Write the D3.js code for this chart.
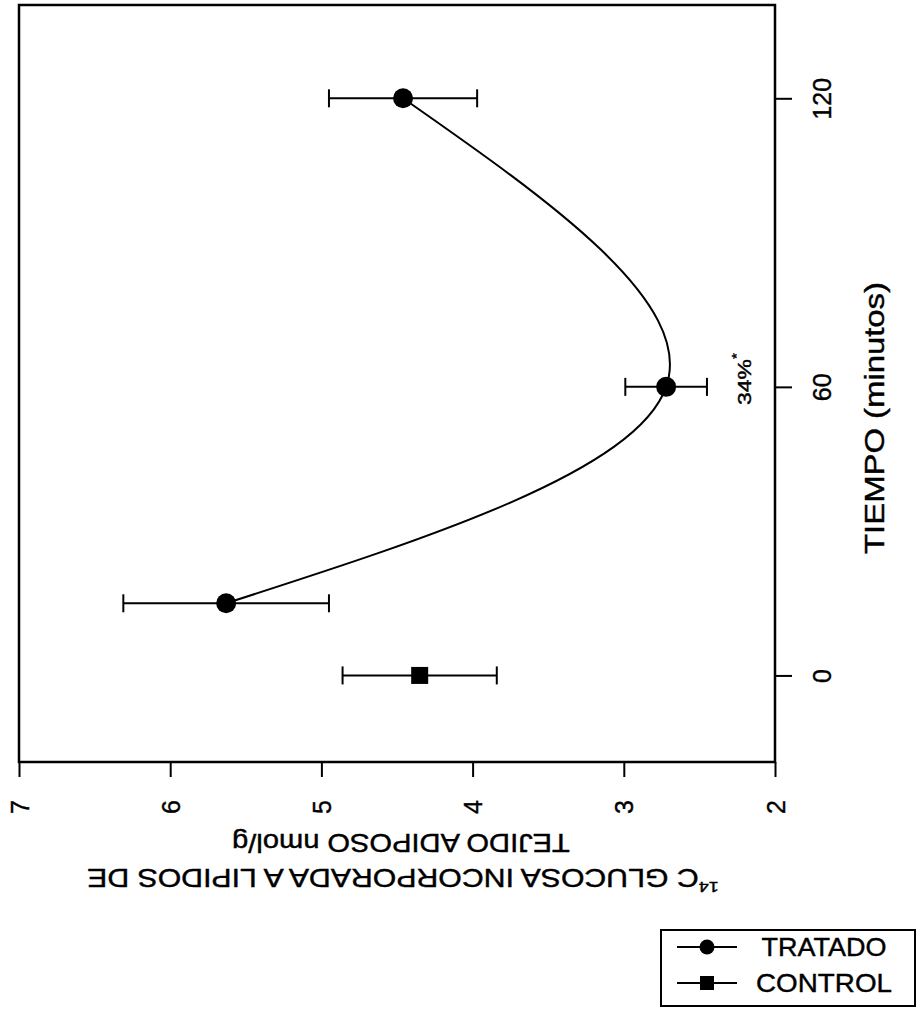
<!DOCTYPE html>
<html lang="es">
<head>
<meta charset="UTF-8">
<title>Glucosa</title>
<script src="https://cdn.jsdelivr.net/npm/d3@7"></script>
<style>
    body { margin: 0; background: #fff; }
    svg text { font-family: "Liberation Sans", Arial, sans-serif; fill: #000; stroke: #000; stroke-width: 0.4px; }
</style>
</head>
<body>
<script>
// datos
var tiempos = [15, 60, 120];            // minutos, grupo tratado
var tratado = [5.63, 2.72, 4.46];       // nmol/g
var tratadoErr = [0.68, 0.27, 0.49];
var controlT = [0];
var control = [4.35];
var controlErr = [0.51];
var ticksValor = [7, 6, 5, 4, 3, 2];
var ticksTiempo = [0, 60, 120];

var W = 920, H = 1017;
var svg = d3.select("body").append("svg")
    .attr("width", W).attr("height", H);

// la figura esta girada: el tiempo va en vertical y el valor en horizontal
var mLeft = 19, mRight = 775, mTop = 5, mBottom = 762;
var v = d3.scaleLinear().domain([7, 2]).range([mLeft, mRight]);
var t = d3.scaleLinear().domain([-18, 139.4]).range([mBottom, mTop]);

// texto girado y ajustado a una longitud
function texto(g, cx, cy, ang, size, len) {
    var tx = g.append("text")
        .attr("text-anchor", "middle")
        .attr("dominant-baseline", "central")
        .attr("font-size", size);
    return {
        el: tx,
        fit: function () {
            var k = len ? len / tx.node().getComputedTextLength() : 1;
            tx.attr("transform", "translate(" + cx + "," + cy + ") rotate(" + ang + ") scale(" + k + ",1)");
        }
    };
}

// marco
svg.append("rect")
    .attr("x", mLeft).attr("y", mTop)
    .attr("width", mRight - mLeft).attr("height", mBottom - mTop)
    .attr("fill", "none").attr("stroke", "#000").attr("stroke-width", 2.5);

// eje de valores (abajo)
var ax = svg.append("g").attr("transform", "translate(0," + mBottom + ")")
    .call(d3.axisBottom(v).tickValues(ticksValor).tickSize(15).tickFormat(d3.format("d")));
ax.select(".domain").remove();
ax.selectAll("line").attr("stroke-width", 2);
ax.selectAll("text")
    .attr("y", 0).attr("dy", null)
    .attr("font-size", 25)
    .attr("text-anchor", "middle")
    .attr("dominant-baseline", "central")
    .attr("transform", "translate(0,45) rotate(-90)");

// eje de tiempo (derecha)
var at = svg.append("g").attr("transform", "translate(" + mRight + ",0)")
    .call(d3.axisRight(t).tickValues(ticksTiempo).tickSize(17));
at.select(".domain").remove();
at.selectAll("line").attr("stroke-width", 2);
at.selectAll("text")
    .attr("x", 0).attr("dy", null)
    .attr("font-size", 25)
    .attr("text-anchor", "middle")
    .attr("dominant-baseline", "central")
    .attr("transform", "translate(47,0) rotate(-90)");

// titulos de ejes
var tt = texto(svg, 875, 418, -90, 27, 272);
tt.el.text("TIEMPO (minutos)");
tt.fit();

var l1 = texto(svg, 403, 878, 180, 25, 632);
l1.el.append("tspan").attr("font-size", 15).attr("baseline-shift", "super").text("14");
l1.el.append("tspan").text("C GLUCOSA INCORPORADA A LIPIDOS DE");
l1.fit();
var l2 = texto(svg, 401, 843, 180, 25, 338);
l2.el.text("TEJIDO ADIPOSO nmol/g");
l2.fit();

// curva suavizada del grupo tratado
var puntos = tiempos.map(function (d, i) {
    return { t: d, y: tratado[i], e: tratadoErr[i] };
});
var ctrl = controlT.map(function (d, i) {
    return { t: d, y: control[i], e: controlErr[i] };
});

var linea = d3.line()
    .x(function (d) { return v(d.y); })
    .y(function (d) { return t(d.t); })
    .curve(d3.curveNatural);

svg.append("path").datum(puntos)
    .attr("d", linea)
    .attr("fill", "none").attr("stroke", "#000").attr("stroke-width", 2);

// barras de error
function barras(data) {
    var g = svg.append("g").attr("stroke", "#000").attr("stroke-width", 2);
    data.forEach(function (d) {
        var y = t(d.t), x1 = v(d.y + d.e), x2 = v(d.y - d.e);
        g.append("line").attr("x1", x1).attr("x2", x2).attr("y1", y).attr("y2", y);
        g.append("line").attr("x1", x1).attr("x2", x1).attr("y1", y - 9).attr("y2", y + 9);
        g.append("line").attr("x1", x2).attr("x2", x2).attr("y1", y - 9).attr("y2", y + 9);
    });
}
barras(puntos);
barras(ctrl);

svg.selectAll(".pt").data(puntos).enter().append("circle")
    .attr("class", "pt")
    .attr("cx", function (d) { return v(d.y); })
    .attr("cy", function (d) { return t(d.t); })
    .attr("r", 10).attr("fill", "#000");

svg.selectAll(".sq").data(ctrl).enter().append("rect")
    .attr("class", "sq")
    .attr("x", function (d) { return v(d.y) - 8.5; })
    .attr("y", function (d) { return t(d.t) - 8.5; })
    .attr("width", 17).attr("height", 17).attr("fill", "#000");

// anotacion
var an = texto(svg, 744, 379, -90, 18, 52);
an.el.append("tspan").text("34%");
an.el.append("tspan").attr("font-size", 12).attr("baseline-shift", "super").text("*");
an.fit();

// leyenda
var lg = svg.append("g");
lg.append("rect").attr("x", 661).attr("y", 930).attr("width", 254).attr("height", 76)
    .attr("fill", "none").attr("stroke", "#000").attr("stroke-width", 2);
var filas = [{ n: "TRATADO", y: 947, m: "c" }, { n: "CONTROL", y: 983, m: "s" }];
filas.forEach(function (f) {
    lg.append("line").attr("x1", 677).attr("x2", 737).attr("y1", f.y).attr("y2", f.y)
        .attr("stroke", "#000").attr("stroke-width", 2);
    if (f.m === "c") {
        lg.append("circle").attr("cx", 707).attr("cy", f.y).attr("r", 7.5).attr("fill", "#000");
    } else {
        lg.append("rect").attr("x", 700).attr("y", f.y - 7).attr("width", 14).attr("height", 14).attr("fill", "#000");
    }
    var tx = texto(lg, 824, f.y, 0, 25, f.n === "TRATADO" ? 125 : 136);
    tx.el.text(f.n);
    tx.fit();
});
</script>
</body>
</html>
